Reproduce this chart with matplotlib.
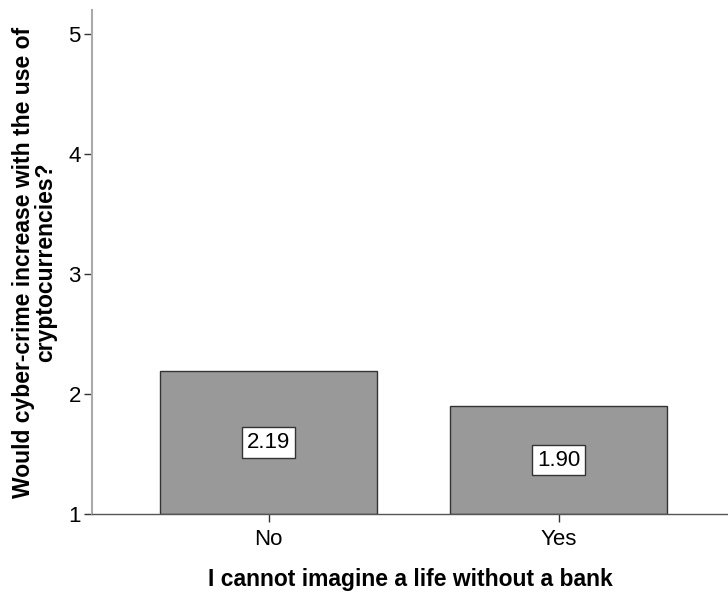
import numpy as np
import matplotlib.pyplot as plt

plt.rcParams['font.family'] = ['Liberation Sans', 'DejaVu Sans']

categories = ['No', 'Yes']
means = [2.19, 1.90]
mean_labels = ['2.19', '1.90']

fig = plt.figure(figsize=(7.28, 5.92), dpi=100)
ax = fig.add_axes([92 / 728, 1 - 514 / 592, 1 - 92 / 728, 504 / 592])

x = np.arange(len(categories))
base = 1.0
heights = [m - base for m in means]
ax.bar(x, heights, bottom=base, width=0.75, color='#999999',
       edgecolor='#333333', linewidth=1.0, zorder=2)

# value boxes at the middle of each bar
for xi, m, lab in zip(x, means, mean_labels):
    ax.text(xi, (base + m) / 2, lab, ha='center', va='center', fontsize=16,
            bbox=dict(boxstyle='square,pad=0.22', facecolor='white',
                      edgecolor='#333333', linewidth=1.0), zorder=3)

ax.set_xlim(-0.609, 1.584)
ax.set_ylim(1, 5.2)
ax.set_yticks([1, 2, 3, 4, 5])
ax.set_xticks(x)
ax.set_xticklabels(categories)
ax.tick_params(axis='both', labelsize=16, length=6, width=1, color='#333333',
               pad=2)
ax.tick_params(axis='x', pad=5)

for s in ['top', 'right']:
    ax.spines[s].set_visible(False)
ax.spines['left'].set_color('#aaaaaa')
ax.spines['left'].set_linewidth(1.5)
ax.spines['bottom'].set_color('#555555')
ax.spines['bottom'].set_linewidth(1.0)

ax.set_xlabel('I cannot imagine a life without a bank', fontsize=16.5,
              fontweight='bold', labelpad=13)
ax.set_ylabel('Would cyber-crime increase with the use of\ncryptocurrencies?',
              fontsize=16.5, fontweight='bold', labelpad=8, linespacing=0.95)

fig.savefig('out.png', dpi=100, facecolor='white')
